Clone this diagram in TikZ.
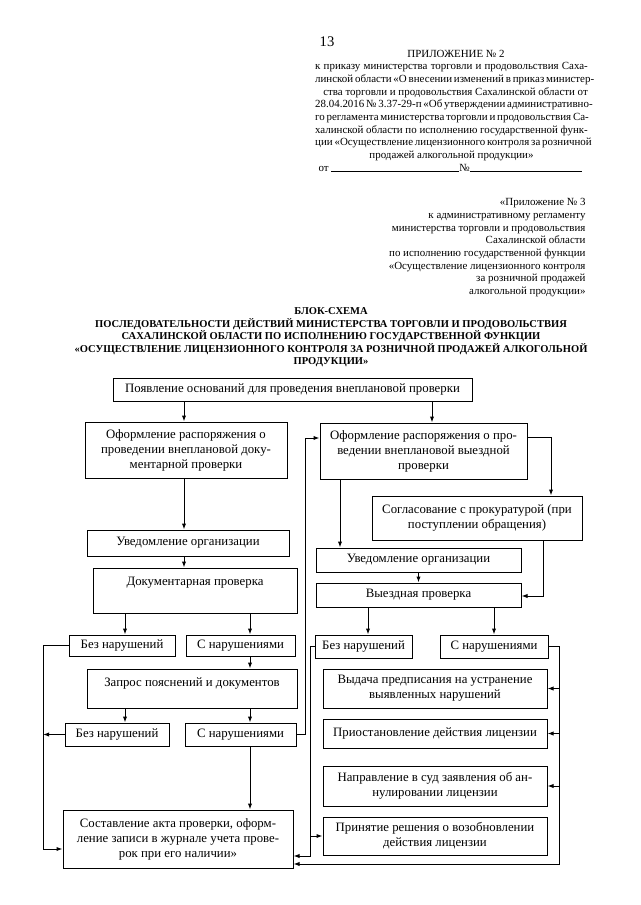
\documentclass[tikz,border=0pt]{standalone}
\usepackage{fontspec}
\setmainfont{Liberation Serif}
\usetikzlibrary{arrows.meta}

\tikzset{every picture/.style={line width=0.75pt}}
\tikzset{
  box/.style={draw, inner sep=1.5pt, align=center, font=\fontsize{9.6}{11.3}\selectfont},
  wh/.style 2 args={minimum width=#1*0.75pt, minimum height=#2*0.75pt},
  arr/.style={-{Latex[length=4.5pt,width=3.2pt]}},
  hdr/.style={inner sep=0pt, font=\fontsize{8.2}{9.5}\selectfont},
}
\newcommand\jline[1]{\makebox[204.5pt][s]{#1}}

\begin{document}
\begin{tikzpicture}[x=0.75pt,y=0.75pt,yscale=-1,xscale=1]
\useasboundingbox (0,0) rectangle (640,905);

% Text Node
\node [inner sep=0pt, font=\fontsize{11}{13}\selectfont] (pagenum) at (327,42) {13};
% Text Node
\node [hdr] (pril2) at (456,54) {ПРИЛОЖЕНИЕ № 2};
% Text Node
\node [hdr, anchor=north, align=center] (prikaz) at (451.5,62) {%
\jline{к приказу министерства торговли и продовольствия Саха-}\\
\jline{линской области «О внесении изменений в приказ министер-}\\
\makebox[204.5pt][r]{ства торговли и продовольствия Сахалинской области от}\\
\jline{28.04.2016 № 3.37-29-п «Об утверждении административно-}\\
\jline{го регламента министерства торговли и продовольствия Са-}\\
\jline{халинской области по исполнению государственной функ-}\\
\jline{ции «Осуществление лицензионного контроля за розничной}\\
продажей алкогольной продукции»};
% Text Node
\node [hdr, anchor=base west] (ot) at (318,172) {от \rule{96pt}{0.4pt}№\rule{84pt}{0.4pt}};
% Text Node
\node [hdr, anchor=north east, align=right] (pril3) at (586,198) {%
«Приложение № 3\\
к административному регламенту\\
министерства торговли и продовольствия\\
Сахалинской области\\
по исполнению государственной функции\\
«Осуществление лицензионного контроля\\
за розничной продажей\\
алкогольной продукции»};
% Text Node
\node [inner sep=0pt, anchor=north, align=center, font=\bfseries\fontsize{7.9}{9.4}\selectfont] (title) at (331,307) {%
БЛОК-СХЕМА\\
ПОСЛЕДОВАТЕЛЬНОСТИ ДЕЙСТВИЙ МИНИСТЕРСТВА ТОРГОВЛИ И ПРОДОВОЛЬСТВИЯ\\
САХАЛИНСКОЙ ОБЛАСТИ ПО ИСПОЛНЕНИЮ ГОСУДАРСТВЕННОЙ ФУНКЦИИ\\
«ОСУЩЕСТВЛЕНИЕ ЛИЦЕНЗИОННОГО КОНТРОЛЯ ЗА РОЗНИЧНОЙ ПРОДАЖЕЙ АЛКОГОЛЬНОЙ\\
ПРОДУКЦИИ»};

%Shape: Rectangle
\node [box, wh={359}{23}] (osn) at (292.5,389.5) {Появление оснований для проведения внеплановой проверки};
%Shape: Rectangle
\node [box, wh={202}{56}] (rasp_doc) at (186,450) {Оформление распоряжения о\\проведении внеплановой доку-\\ментарной проверки};
%Shape: Rectangle
\node [box, wh={207}{56}] (rasp_vyezd) at (423.5,451) {Оформление распоряжения о про-\\ведении внеплановой выездной\\проверки};
%Shape: Rectangle
\node [box, wh={210}{44}] (soglas) at (477,518) {Согласование с прокуратурой (при\\поступлении обращения)};
%Shape: Rectangle
\node [box, wh={202}{26}] (uved_doc) at (188,543) {Уведомление организации};
%Shape: Rectangle
\node [box, wh={205}{24}] (uved_vyezd) at (418.5,560) {Уведомление организации};
%Shape: Rectangle
\node [box, wh={204}{45}, text depth=14pt] (dok_pr) at (195,590.5) {Документарная проверка};
%Shape: Rectangle
\node [box, wh={205}{24}] (vyezd_pr) at (418.5,595) {Выездная проверка};
%Shape: Rectangle
\node [box, wh={106}{21}] (bez1) at (122,645.5) {Без нарушений};
%Shape: Rectangle
\node [box, wh={109}{21}] (s1) at (240.5,645.5) {С нарушениями};
%Shape: Rectangle
\node [box, wh={210}{39}, text depth=9pt] (zapros) at (192,688.5) {Запрос пояснений и документов};
%Shape: Rectangle
\node [box, wh={104}{23}] (bez2) at (117,734.5) {Без нарушений};
%Shape: Rectangle
\node [box, wh={111}{23}] (s2) at (240.5,734.5) {С нарушениями};
%Shape: Rectangle
\node [box, wh={97}{23}] (bez3) at (363.5,646.5) {Без нарушений};
%Shape: Rectangle
\node [box, wh={108}{23}] (s3) at (494,646.5) {С нарушениями};
%Shape: Rectangle
\node [box, wh={224}{39}] (vydacha) at (435,688.5) {Выдача предписания на устранение\\выявленных нарушений};
%Shape: Rectangle
\node [box, wh={224}{29}] (priost) at (435,733.5) {Приостановление действия лицензии};
%Shape: Rectangle
\node [box, wh={224}{40}] (napr) at (435,786) {Направление в суд заявления об ан-\\нулировании лицензии};
%Shape: Rectangle
\node [box, wh={224}{38}] (prinyat) at (435,836) {Принятие решения о возобновлении\\действия лицензии};
%Shape: Rectangle
\node [box, wh={230}{58}] (akt) at (178,839) {Составление акта проверки, оформ-\\ление записи в журнале учета прове-\\рок при его наличии»};

% Columns and bends of the connectors
\coordinate (kdoc) at (184,0);
\coordinate (kvyezd) at (432,0);
\coordinate (k1) at (125,0);
\coordinate (k2) at (250,0);
\coordinate (k4) at (340,0);
\coordinate (k5) at (368,0);
\coordinate (jL) at (43,849);
\coordinate (jM) at (305,438);
\coordinate (jC) at (551,437);
\coordinate (jD) at (543,596);
\coordinate (jN) at (310,856);
\coordinate (jO) at (559,864);

%Straight Lines
\draw [arr] (osn.south -| kdoc) -- (rasp_doc.north -| kdoc);
\draw [arr] (osn.south -| kvyezd) -- (rasp_vyezd.north -| kvyezd);
\draw [arr] (rasp_doc.south -| kdoc) -- (uved_doc.north -| kdoc);
\draw [arr] (uved_doc.south -| kdoc) -- (dok_pr.north -| kdoc);
\draw [arr] (dok_pr.south -| k1) -- (bez1.north -| k1);
\draw [arr] (dok_pr.south -| k2) -- (s1.north -| k2);
\draw [arr] (s1.south -| k2) -- (zapros.north -| k2);
\draw [arr] (zapros.south -| k1) -- (bez2.north -| k1);
\draw [arr] (zapros.south -| k2) -- (s2.north -| k2);
\draw [arr] (s2.south -| k2) -- (akt.north -| k2);
\draw [arr] (bez1.west) -| (jL) -- (jL -| akt.west);
\draw [arr] (bez2.west) -- (bez2.west -| jL);
\draw [arr] (s2.east) -| (jM) -- (jM -| rasp_vyezd.west);
\draw [arr] (rasp_vyezd.south -| k4) -- (uved_vyezd.north -| k4);
\draw [arr] (jC -| rasp_vyezd.east) -- (jC) -- (jC |- soglas.north);
\draw [arr] (soglas.south -| jD) -- (jD) -- (jD -| vyezd_pr.east);
\draw [arr] (uved_vyezd.south) -- (vyezd_pr.north);
\draw [arr] (vyezd_pr.south -| k5) -- (bez3.north -| k5);
\draw [arr] (vyezd_pr.south -| s3.north) -- (s3.north);
\draw [arr] (bez3.west) -| (jN) -- (jN -| akt.east);
\draw [arr] (prinyat.west -| jN) -- (prinyat.west);
\draw [arr] (s3.east) -| (jO) -- (jO -| akt.east);
\draw [arr] (vydacha.east -| jO) -- (vydacha.east);
\draw [arr] (priost.east -| jO) -- (priost.east);
\draw [arr] (napr.east -| jO) -- (napr.east);

\end{tikzpicture}
\end{document}
